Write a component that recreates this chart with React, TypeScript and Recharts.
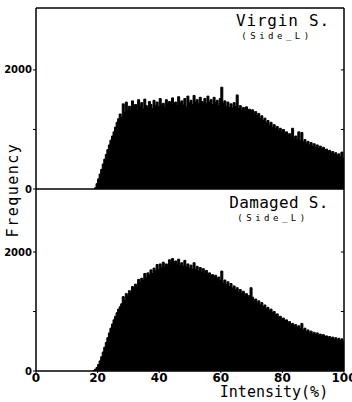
import React from 'react';
import { BarChart, Bar, XAxis, YAxis, ReferenceLine } from 'recharts';

// Histogram bins: 0.5 % wide, first bin starts at 18 % intensity
const FIRST_BIN = 18;
const BIN_WIDTH = 0.5;

const virginFreq = [
  0, 0, 20, 90, 170, 250, 330, 420, 500, 580,
  660, 740, 820, 890, 960, 1040, 1120, 1180, 1260, 1200,
  1430, 1290, 1460, 1320, 1390, 1300, 1480, 1350, 1420, 1310,
  1500, 1380, 1450, 1340, 1510, 1400, 1360, 1470, 1420, 1350,
  1490, 1400, 1460, 1380, 1520, 1410, 1440, 1370, 1500, 1420,
  1470, 1390, 1530, 1430, 1460, 1400, 1550, 1440, 1480, 1410,
  1520, 1380, 1560, 1450, 1490, 1420, 1570, 1460, 1500, 1430,
  1540, 1470, 1450, 1520, 1430, 1560, 1460, 1500, 1420, 1540,
  1450, 1490, 1400, 1520, 1710, 1440, 1480, 1390, 1460, 1370,
  1430, 1360, 1450, 1380, 1580, 1350, 1400, 1320, 1370, 1300,
  1380, 1290, 1340, 1270, 1330, 1250, 1300, 1230, 1270, 1190,
  1230, 1150, 1190, 1110, 1150, 1070, 1120, 1040, 1080, 1010,
  1050, 980, 1020, 950, 1000, 920, 960, 900, 930, 870,
  1020, 850, 890, 830, 960, 810, 950, 790, 830, 770,
  800, 740, 780, 720, 760, 700, 740, 680, 720, 660,
  700, 640, 670, 620, 650, 600, 630, 580, 610, 560,
  590, 540, 620, 520,
];

const damagedFreq = [
  0, 10, 30, 60, 110, 170, 240, 320, 400, 480,
  560, 640, 720, 790, 860, 920, 980, 1040, 1080, 1130,
  1250, 1180, 1300, 1250, 1350, 1300, 1420, 1370, 1460, 1420,
  1540, 1480, 1560, 1530, 1640, 1570, 1650, 1610, 1700, 1640,
  1730, 1680, 1790, 1700, 1800, 1730, 1830, 1750, 1800, 1760,
  1870, 1780, 1890, 1800, 1850, 1790, 1880, 1770, 1820, 1760,
  1860, 1750, 1800, 1730, 1780, 1710, 1820, 1700, 1760, 1680,
  1740, 1660, 1720, 1640, 1690, 1610, 1650, 1590, 1620, 1560,
  1610, 1540, 1580, 1520, 1680, 1480, 1530, 1450, 1500, 1420,
  1470, 1390, 1430, 1360, 1400, 1330, 1370, 1300, 1340, 1260,
  1300, 1230, 1270, 1400, 1240, 1170, 1210, 1140, 1180, 1110,
  1150, 1080, 1110, 1050, 1070, 1010, 1040, 980, 1000, 950,
  960, 900, 920, 870, 890, 840, 860, 810, 830, 780,
  800, 760, 780, 730, 760, 710, 800, 690, 720, 660,
  690, 640, 670, 620, 650, 610, 640, 590, 620, 580,
  610, 570, 590, 550, 580, 540, 570, 530, 560, 520,
  550, 510, 540, 490,
];

const xTicks = [0, 20, 40, 60, 80, 100];
const yTicks = [0, 1000, 2000];
const yLabeled = [0, 2000];
const rightTicks = [1000, 2000];
const X_MAX = 100;
const RIGHT_TICK_FROM = 99;

const topTitle = 'Virgin S.';
const bottomTitle = 'Damaged S.';
const sideLabel = '(Side_L)';
const xLabel = 'Intensity(%)';
const yLabel = 'Frequency';

const toRows = (vals: number[]) =>
  vals.map((v, i) => ({ x: FIRST_BIN + BIN_WIDTH * i + BIN_WIDTH / 2, f: v }));

const virginData = toRows(virginFreq);
const damagedData = toRows(damagedFreq);

const MONO = '"DejaVu Sans Mono", monospace';
const SANS = '"DejaVu Sans", sans-serif';
const axisStroke = { stroke: '#000', strokeWidth: 1.5 };
const yTickStyle = { fontFamily: SANS, fontSize: 10, fontWeight: 700, fill: '#000' };
const xTickStyle = { fontFamily: SANS, fontSize: 12, fontWeight: 700, fill: '#000' };
const fmtY = (v: number) => (yLabeled.includes(v) ? String(v) : '');

function Panel({ data, margin, domainMax, showX }: { data: any[]; margin: any; domainMax: number; showX: boolean }) {
  return (
    <BarChart
      width={352}
      height={402}
      data={data}
      margin={margin}
      barCategoryGap={0}
      barGap={0}
      style={{ position: 'absolute', left: 0, top: 0 }}
    >
      <XAxis
        type="number"
        dataKey="x"
        domain={[0, X_MAX]}
        ticks={xTicks}
        allowDataOverflow
        height={showX ? 31 : 0}
        tick={showX ? xTickStyle : false}
        tickLine={showX ? { stroke: '#000' } : false}
        tickSize={2}
        tickMargin={0}
        axisLine={axisStroke}
        interval={0}
      />
      <YAxis
        width={36}
        domain={[0, domainMax]}
        ticks={yTicks}
        allowDataOverflow
        tickFormatter={fmtY}
        tick={yTickStyle}
        tickSize={3}
        tickMargin={1}
        tickLine={{ stroke: '#000' }}
        axisLine={axisStroke}
        interval={0}
      />
      <Bar dataKey="f" fill="#000" stroke="#000" strokeWidth={1} isAnimationActive={false} />
      <ReferenceLine y={domainMax} stroke="#000" strokeWidth={1.5} ifOverflow="visible" />
      <ReferenceLine x={X_MAX} stroke="#000" strokeWidth={1.5} ifOverflow="visible" />
      {rightTicks.map((t) => (
        <ReferenceLine
          key={t}
          segment={[{ x: RIGHT_TICK_FROM, y: t }, { x: X_MAX, y: t }]}
          stroke="#000"
          strokeWidth={1}
          ifOverflow="visible"
        />
      ))}
    </BarChart>
  );
}

export default function App() {
  return (
    <div style={{ position: 'absolute', left: 0, top: 0, width: 352, height: 402, background: '#fff' }}>
      <Panel data={virginData} margin={{ top: 8, right: 8, bottom: 213, left: 0 }} domainMax={3040} showX={false} />
      <Panel data={damagedData} margin={{ top: 189, right: 8, bottom: 0, left: 0 }} domainMax={3060} showX={true} />
      <svg width={352} height={402} style={{ position: 'absolute', left: 0, top: 0, pointerEvents: 'none' }}>
        <text x={283} y={20} textAnchor="middle" dominantBaseline="central" fontFamily={MONO} fontSize={16} letterSpacing={0.8} fill="#000">{topTitle}</text>
        <text x={277} y={36} textAnchor="middle" dominantBaseline="central" fontFamily={MONO} fontSize={9} letterSpacing={3.5} fill="#000">{sideLabel}</text>
        <text x={279} y={202} textAnchor="middle" dominantBaseline="central" fontFamily={MONO} fontSize={16} letterSpacing={0.3} fill="#000">{bottomTitle}</text>
        <text x={273} y={218} textAnchor="middle" dominantBaseline="central" fontFamily={MONO} fontSize={9} letterSpacing={3.5} fill="#000">{sideLabel}</text>
        <text x={274} y={392} textAnchor="middle" dominantBaseline="central" fontFamily={MONO} fontSize={15} fill="#000">{xLabel}</text>
        <text x={0} y={0} transform="translate(13,190) rotate(-90)" textAnchor="middle" dominantBaseline="central" fontFamily={MONO} fontSize={15} letterSpacing={1.5} fill="#000">{yLabel}</text>
      </svg>
    </div>
  );
}
